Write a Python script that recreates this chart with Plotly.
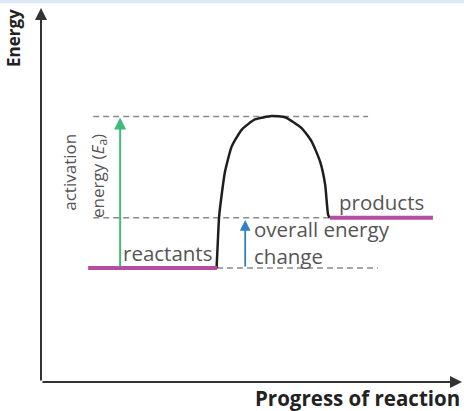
import plotly.graph_objects as go

# Energy levels (arbitrary units, axis 0-100)
reactant_energy = 30.5
product_energy = 43.9
peak_energy = 71.0

# Horizontal extents (progress of reaction, 0-100)
reactant_x = [11.2, 41.8]
product_x = [68.6, 93.1]
peak_dash_x = [12.4, 77.7]
product_dash_x = [12.4, 68.6]
reactant_dash_x = [41.8, 80.0]

# Reaction curve
curve_x = [41.7, 42.0, 42.3, 43.0, 43.7, 45.3, 47.7, 50.8, 54.8, 58.0, 61.9, 64.3, 66.3, 67.5, 68.2, 68.6]
curve_y = [30.4, 37.5, 44.1, 50.8, 56.2, 63.0, 67.5, 70.2, 71.1, 70.8, 67.9, 64.3, 58.9, 52.7, 44.7, 43.9]

activation_arrow_x = 18.8
overall_arrow_x = 48.5

MAGENTA = "#b64da3"
GREY_DASH = "#8a8a8a"
TEXT = "#555555"
FONT = "Open Sans"
HSIZE = 20.5
VSIZE = 17

fig = go.Figure()

def hline(xs, y, color, width, dash=None):
    fig.add_trace(go.Scatter(x=xs, y=[y, y], mode="lines",
                             line=dict(color=color, width=width, dash=dash),
                             hoverinfo="skip", showlegend=False))

hline(peak_dash_x, peak_energy, GREY_DASH, 1.5, "6px,4px")
hline(product_dash_x, product_energy, GREY_DASH, 1.5, "6px,4px")
hline(reactant_dash_x, reactant_energy, GREY_DASH, 1.5, "6px,4px")

fig.add_trace(go.Scatter(x=curve_x, y=curve_y, mode="lines",
                         line=dict(color="#1e1e1e", width=2.5, shape="spline", smoothing=0.5),
                         hoverinfo="skip", showlegend=False))

hline(reactant_x, reactant_energy, MAGENTA, 4)
hline(product_x, product_energy, MAGENTA, 4)

def arrow(x, y, ax, ay, color, width):
    return dict(x=x, y=y, ax=ax, ay=ay, xref="x", yref="y", axref="x", ayref="y",
                showarrow=True, arrowhead=2, arrowsize=1.2, arrowwidth=width,
                arrowcolor=color, text="")

def label(x, y, text, size=HSIZE, angle=0, xanchor="left", yanchor="middle"):
    return dict(x=x, y=y, xref="x", yref="y", text=text, showarrow=False,
                textangle=angle, xanchor=xanchor, yanchor=yanchor, align="left",
                font=dict(family=FONT, size=size, color=TEXT))

annotations = [
    arrow(0, 100, 0, 0, "#333333", 2),
    arrow(100, 0, 0, 0, "#333333", 2),
    arrow(activation_arrow_x, peak_energy - 0.3, activation_arrow_x, reactant_energy, "#3dbb7b", 2),
    arrow(overall_arrow_x, product_energy - 0.6, overall_arrow_x, reactant_energy, "#2f80c4", 1.8),
    label(19.0, 34.6, "reactants"),
    label(70.3, 48.0, "products"),
    label(50.2, 37.3, "overall energy<br>change"),
    label(6.9, 66.8, "activation", size=VSIZE, angle=-90, xanchor="center", yanchor="top"),
    label(13.5, 66.8, "energy (<i>E</i><sub>a</sub>)", size=VSIZE, angle=-90,
          xanchor="center", yanchor="top"),
    dict(x=-0.064, y=0.92, xref="paper", yref="paper", text="<b>Energy</b>",
         showarrow=False, textangle=-90, xanchor="center", yanchor="middle",
         font=dict(family=FONT, size=17, color="#222222")),
    dict(x=1.0, y=-0.042, xref="paper", yref="paper", text="<b>Progress of reaction</b>",
         showarrow=False, xanchor="right", yanchor="middle",
         font=dict(family=FONT, size=20.5, color="#222222")),
]

fig.update_layout(
    width=464, height=411,
    margin=dict(l=41, r=2, t=8, b=29),
    plot_bgcolor="white", paper_bgcolor="white",
    xaxis=dict(range=[0, 100], visible=False, fixedrange=True),
    yaxis=dict(range=[0, 100], visible=False, fixedrange=True),
    annotations=annotations,
    showlegend=False,
)

fig.add_shape(type="rect", xref="paper", yref="paper", x0=-0.1, x1=1.01, y0=1.013, y1=1.03,
              fillcolor="#dce8f5", line=dict(width=0), layer="below")

fig.write_html("out.html", config={"displayModeBar": False},
               post_script="document.body.style.margin='0';document.body.style.padding='0';")
